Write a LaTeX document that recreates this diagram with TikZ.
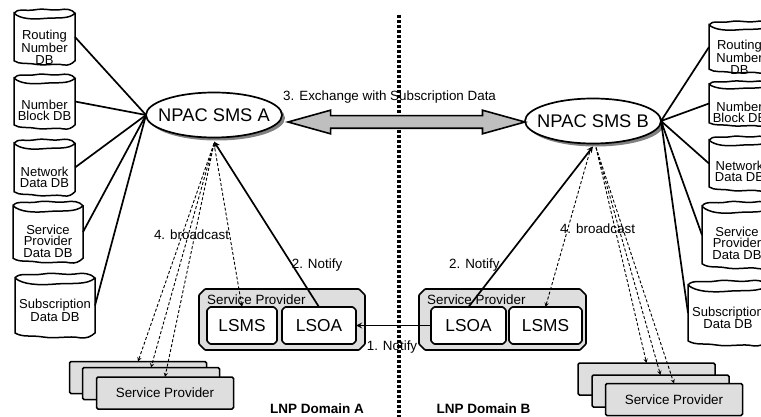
\documentclass[tikz,border=0pt]{standalone}
\usepackage{fontspec}
\setmainfont{Liberation Sans}
\usepackage{tikz}
\usetikzlibrary{positioning,calc,shapes.geometric,shapes.arrows,shadows}

\begin{document}
\begin{tikzpicture}
[   x=1pt, y=-1pt,
    dbnode/.style={inner sep=0pt, outer sep=0pt},
    dbtext/.style={align=center, font=\fontsize{13}{11.5}\selectfont, inner sep=0pt},
    smsnode/.style={draw=black, ellipse, line width=1.7pt, fill=white, inner xsep=-10pt, inner ysep=0pt, outer sep=0pt, minimum width=136pt, minimum height=45pt, font=\fontsize{18.3}{20}\selectfont, drop shadow={shadow xshift=3pt, shadow yshift=-3pt, fill=black!50, opacity=1}},
    boxnode/.style={inner sep=0pt, outer sep=0pt, font=\fontsize{17.3}{20}\selectfont},
    stackbox/.style={draw=black, rounded corners=1.5pt, line width=1.5pt, fill=black!13, inner sep=0pt, outer sep=0pt, minimum width=137pt, minimum height=32pt, font=\fontsize{13.4}{15}\selectfont},
    lbl/.style={font=\fontsize{13.4}{15}\selectfont, inner sep=0pt},
    bcast/.style={->,>=stealth, dash pattern=on 3pt off 2pt, line width=0.9pt},
    link/.style={line width=1.7pt},
]

    \useasboundingbox (0,0) rectangle (761,417);

    % domain border
    \coordinate (bordertop) at (399,15);
    \coordinate (borderbot) at (399,417);
    \draw[line width=4.3pt, dash pattern=on 3.3pt off 1.7pt] (bordertop) -- (borderbot);

\foreach \nm/\x/\y/\w/\h/\off/\txt in {
    dbA1/14/8/61/58/10/{Routing\\Number\\DB},
    dbA2/14/73/61/57/9/{Number\\Block DB},
    dbA3/14/138/61/59/10/{Network\\Data DB},
    dbA4/13/200/70/64/9/{Service\\Provider\\Data DB},
    dbA5/15/272/80/67/5/{Subscription\\Data DB},
    dbB1/709/20/61/54/10/{Routing\\Number\\DB},
    dbB2/709/80/61/47/9/{Number\\Block DB},
    dbB3/709/135/61/57/8/{Network\\Data DB},
    dbB4/702/200/70/70/8/{Service\\Provider\\Data DB},
    dbB5/688/279/80/68/5/{Subscription\\Data DB}}
{
    \begin{scope}[shift={(\x,\y)}, xscale=\w, yscale=\h]
        \draw[line width=1.5pt, fill=white] (0,.09) .. controls (.05,0) and (.2,.06) .. (.35,.03) .. controls (.5,0) and (.6,.05) .. (.75,.03) .. controls (.85,.01) and (.95,.02) .. (1,.09) .. controls (.9,.2) and (.7,.16) .. (.5,.18) .. controls (.3,.2) and (.1,.19) .. (0,.09) -- (0,.91) .. controls (.1,.98) and (.2,.94) .. (.35,.97) .. controls (.5,1) and (.7,.95) .. (.8,.98) .. controls (.9,1) and (.95,.96) .. (1,.91) -- (1,.09);
    \end{scope}

    \node[dbnode, minimum width=\w pt, minimum height=\h pt, label={[dbtext, yshift=-\off pt]center:{\txt}}] (\nm) at (\x+\w/2,\y+\h/2) {};
}

    \node[smsnode] (npacA) at (214,115) {NPAC SMS A};
    \node[smsnode] (npacB) at (593,121) {NPAC SMS B};

    \node[double arrow, draw=black, line width=1.6pt, fill=black!25, inner xsep=0pt, inner ysep=5.5pt, outer sep=0pt, minimum width=22pt, minimum height=237pt, double arrow head extend=5.5pt, double arrow tip angle=31] (exchange) at (406.5,122) {};
    \node[lbl, anchor=west] (exchangelbl) at (283,97) {3. Exchange with Subscription Data};

\foreach \nm/\x/\y/\w/\h/\c/\col/\txt in {
    spA/199/289/166/61/6/black!13/{},
    lsmsA/207/307/70/37/3/white/LSMS,
    lsoaA/282/307/74/37/3/white/LSOA,
    spB/419/289/167/61/6/black!13/{},
    lsoaB/431/307/75/37/3/white/LSOA,
    lsmsB/509/307/73/37/3/white/LSMS}
{
    \draw[line width=1.7pt, fill=\col, rounded corners=0.8pt] (\x+\c,\y) -- (\x+\w-\c,\y) -- (\x+\w,\y+\c) -- (\x+\w,\y+\h-\c) -- (\x+\w-\c,\y+\h) -- (\x+\c,\y+\h) -- (\x,\y+\h-\c) -- (\x,\y+\c) -- cycle;
    \node[boxnode, minimum width=\w pt, minimum height=\h pt] (\nm) at (\x+\w/2,\y+\h/2) {\txt};
}

    \node[lbl, anchor=west] (spAlbl) at (207,300) {Service Provider};
    \node[lbl, anchor=west] (spBlbl) at (427,300) {Service Provider};

    \node[stackbox] (stackA1) at (138,377.5) {};
    \node[stackbox] (stackA2) at (151,383.5) {};
    \node[stackbox] (stackA3) at (165,393) {Service Provider};

    \node[stackbox] (stackB1) at (646.5,379) {};
    \node[stackbox] (stackB2) at (660.5,391) {};
    \node[stackbox] (stackB3) at (674,399.5) {Service Provider};

    \foreach \i in {1,...,5}
    {
        \draw[link] (npacA.west) -- (dbA\i.east);
        \draw[link] (npacB.east) -- (dbB\i.west);
    }

    \draw[->,>=stealth, link] (lsoaA.north) -- node[lbl, right, pos=0.2, xshift=-7pt, yshift=9pt] {2. Notify} ([yshift=-4pt]npacA.south);
    \draw[->,>=stealth, link] (lsoaB.north) -- node[lbl, left, pos=0.2, xshift=7pt, yshift=10pt] {2. Notify} ([yshift=-3pt]npacB.south);
    \draw[->,>=stealth, link] (lsoaB.west) -- (lsoaA.east);
    \node[lbl] (notify) at (392,347) {1. Notify};

    \draw[bcast] ([yshift=-6pt]npacA.south) -- (stackA1.north);
    \draw[bcast] ([yshift=-6pt]npacA.south) -- (stackA2.north);
    \draw[bcast] ([yshift=-6pt]npacA.south) -- (stackA3.north);
    \draw[bcast] ([yshift=-6pt]npacA.south) -- (lsmsA.north);

    \draw[bcast] ([xshift=3pt,yshift=-4pt]npacB.south) -- (stackB1.north);
    \draw[bcast] ([xshift=3pt,yshift=-4pt]npacB.south) -- (stackB2.north);
    \draw[bcast] ([xshift=3pt,yshift=-4pt]npacB.south) -- (stackB3.north);
    \draw[bcast] ([xshift=-2pt,yshift=-4pt]npacB.south) -- (lsmsB.north);

    \node[lbl] (bcastA) at (191.5,235) {4. broadcast};
    \node[lbl] (bcastB) at (597.5,229) {4. broadcast};

    \node[lbl, font=\fontsize{13.5}{15}\selectfont\bfseries] (domainA) at (317,409) {LNP Domain A};
    \node[lbl, font=\fontsize{13.5}{15}\selectfont\bfseries] (domainB) at (483.5,409) {LNP Domain B};

\end{tikzpicture}
\end{document}
